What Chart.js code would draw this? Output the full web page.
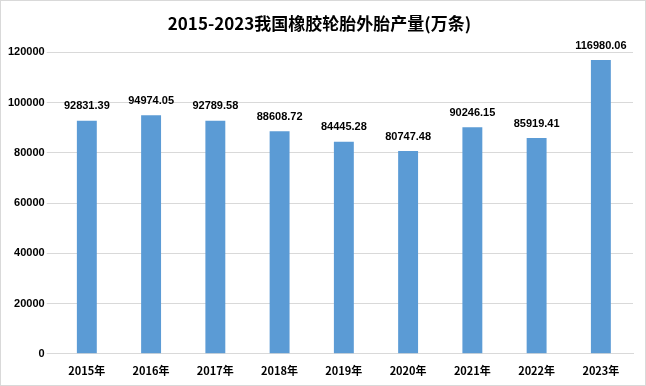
<!DOCTYPE html>
<html><head><meta charset="utf-8">
<script src="https://cdn.jsdelivr.net/npm/chart.js@4/dist/chart.umd.min.js"></script>
<style>
html,body{margin:0;padding:0;background:#fff;}
#wrap{position:absolute;left:0;top:0;width:644px;height:384px;border:1px solid #d9d9d9;}
canvas{display:block;}
</style></head><body>
<div id="wrap"><canvas id="c" width="644" height="384"></canvas></div>
<script>
const title = "2015-2023我国橡胶轮胎外胎产量(万条)";
const categories = ["2015年","2016年","2017年","2018年","2019年","2020年","2021年","2022年","2023年"];
const production = [92831.39,94974.05,92789.58,88608.72,84445.28,80747.48,90246.15,85919.41,116980.06];
const valueLabels = ["92831.39","94974.05","92789.58","88608.72","84445.28","80747.48","90246.15","85919.41","116980.06"];

const labelPlugin = {
  id:'vlabels',
  afterDatasetsDraw(chart){
    const ctx = chart.ctx;
    const meta = chart.getDatasetMeta(0);
    ctx.save();
    ctx.font = 'bold 11px "Liberation Sans", "Noto Sans", sans-serif';
    ctx.fillStyle = '#000';
    ctx.textAlign = 'center';
    ctx.textBaseline = 'bottom';
    meta.data.forEach((el,i)=>{
      ctx.fillText(valueLabels[i], el.x, el.y - 9);
    });
    ctx.restore();
  }
};

Chart.defaults.font.family = '"Liberation Sans","Noto Sans CJK SC",sans-serif';
new Chart(document.getElementById('c'), {
  type:'bar',
  data:{labels:categories, datasets:[{data:production, backgroundColor:'#5b9bd5', barPercentage:0.31, categoryPercentage:1}]},
  options:{
    responsive:false, animation:false,
    layout:{padding:{left:5,right:12,top:2,bottom:6}},
    plugins:{
      legend:{display:false},
      tooltip:{enabled:false},
      title:{display:true, text:title, color:'#000',
        font:{size:17, weight:'bold', family:'"Noto Sans CJK SC","Liberation Sans",sans-serif'},
        padding:{top:10,bottom:19}}
    },
    scales:{
      x:{grid:{display:false}, border:{color:'#d9d9d9'},
         ticks:{color:'#000', font:{size:11, weight:'bold', family:'"Noto Sans CJK SC",sans-serif'}, padding:2}},
      y:{min:0,max:120000, grid:{color:'#d9d9d9', drawTicks:true, tickLength:8}, border:{display:false},
         ticks:{stepSize:20000, color:'#000', font:{size:11, weight:'bold'}, padding:2,
                callback:(v)=>String(v)}}
    }
  },
  plugins:[labelPlugin]
});
</script>
</body></html>
